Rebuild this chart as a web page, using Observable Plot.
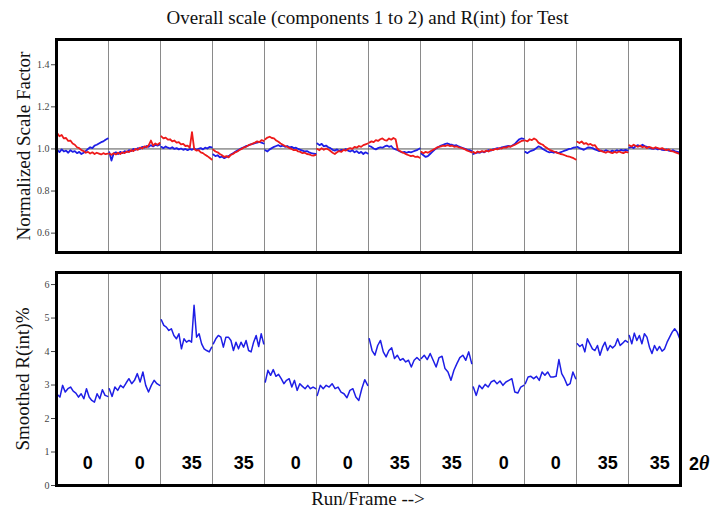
<!DOCTYPE html>
<html>
<head>
<meta charset="utf-8">
<script src="https://cdn.jsdelivr.net/npm/d3@7"></script>
<script src="https://cdn.jsdelivr.net/npm/@observablehq/plot@0.6"></script>
<style>
  html, body { margin: 0; padding: 0; background: #fff; }
  #wrap { position: relative; width: 713px; height: 514px; overflow: hidden; font-family: "Liberation Serif", "DejaVu Serif", serif; }
  .abs { position: absolute; white-space: nowrap; color: #111; }
  #title { left: 0; width: 735px; top: 7px; text-align: center; font-size: 19px; }
  .ylab { font-size: 19px; transform: translate(-50%, -50%) rotate(-90deg); }
  #xlab { left: 0; width: 736px; top: 488px; text-align: center; font-size: 19px; }
  #theta { left: 689px; top: 452px; font-family: "Liberation Sans", Arial, sans-serif; font-weight: bold; font-size: 18px; color: #000; z-index: 2; }
  #theta i { font-family: "Liberation Serif", serif; font-size: 20px; }
  svg { position: absolute; left: 0; }
</style>
</head>
<body>
<div id="wrap">
  <div id="title" class="abs">Overall scale (components 1 to 2) and R(int) for Test</div>
  <div class="abs ylab" style="left:24px; top:146px;">Normalized Scale Factor</div>
  <div class="abs ylab" style="left:23px; top:379px;">Smoothed R(int)%</div>
  <div id="xlab" class="abs">Run/Frame --&gt;</div>
  <div id="theta" class="abs"></div>
</div>
<script>
const runCount = 12;
const thetaLabels = ["0","0","35","35","0","0","35","35","0","0","35","35"];
const thetaTitle = ["2", "θ"];
const scaleTicks = [0.6, 0.8, 1.0, 1.2, 1.4];
const rintTicks = [0, 1, 2, 3, 4, 5, 6];

// Normalized scale factor, component 1 (blue), per run
const scaleBlue = [
  [0.995,0.985,0.998,0.988,0.992,0.982,0.994,0.986,0.990,0.980,0.986,0.976,0.982,0.990,1.000,1.008,1.004,1.016,1.020,1.026,1.032,1.036,1.044,1.050],
  [0.985,0.945,0.978,0.984,0.976,0.986,0.980,0.990,0.985,0.994,0.990,1.000,0.996,1.004,1.000,1.010,1.006,1.014,1.010,1.018,1.012,1.020,1.016,1.020],
  [1.010,1.004,1.012,1.006,1.002,1.008,1.000,1.004,0.998,1.002,0.996,1.000,0.994,1.000,0.996,1.002,0.996,1.000,1.004,0.998,1.006,1.002,1.010,1.008],
  [0.974,0.966,0.970,0.960,0.964,0.956,0.962,0.966,0.974,0.980,0.986,0.992,0.998,1.004,1.008,1.014,1.016,1.022,1.024,1.028,1.030,1.034,1.030,1.026],
  [0.994,0.988,0.998,1.004,1.010,1.014,1.018,1.012,1.016,1.010,1.014,1.008,1.010,1.004,1.006,1.000,0.996,0.992,0.988,0.990,0.984,0.980,0.978,0.976],
  [1.026,1.018,1.024,1.012,1.016,1.008,1.004,0.996,0.992,0.998,0.990,0.996,0.994,1.000,0.992,0.988,0.994,0.984,0.990,0.980,0.986,0.976,0.984,0.978],
  [1.014,1.010,1.002,0.998,1.004,1.008,1.006,1.012,1.016,1.010,1.014,1.002,0.998,0.994,0.988,0.984,0.986,0.982,0.986,0.984,0.988,0.992,0.996,1.002],
  [0.978,0.970,0.962,0.966,0.976,0.986,0.996,1.004,1.010,1.016,1.020,1.024,1.026,1.022,1.020,1.016,1.018,1.012,1.008,1.004,1.000,0.996,0.994,0.990],
  [0.976,0.980,0.984,0.982,0.988,0.984,0.990,0.994,0.992,0.998,1.000,1.004,1.002,1.008,1.010,1.012,1.014,1.012,1.018,1.024,1.036,1.046,1.050,1.048],
  [0.986,0.980,0.988,0.992,0.996,1.004,1.012,1.008,1.000,0.994,0.988,0.984,0.986,0.982,0.986,0.980,0.984,0.988,0.992,0.996,1.000,1.002,1.006,1.008],
  [1.010,1.004,1.000,0.996,1.002,1.008,1.006,1.004,0.998,0.994,0.990,0.992,0.988,0.994,0.990,0.986,0.992,0.988,0.994,0.990,0.996,0.992,0.996,0.992],
  [1.006,1.010,1.004,1.014,1.018,1.012,1.020,1.014,1.010,1.006,1.002,1.000,1.004,0.998,1.000,0.996,0.994,0.998,0.992,0.990,0.994,0.988,0.986,0.984]
];

// Normalized scale factor, component 2 (red), per run
const scaleRed = [
  [1.075,1.060,1.066,1.050,1.052,1.038,1.040,1.026,1.020,1.008,1.004,0.994,0.990,0.982,0.986,0.978,0.984,0.976,0.982,0.978,0.974,0.980,0.975,0.978],
  [0.978,0.972,0.980,0.974,0.982,0.976,0.984,0.980,0.988,0.985,0.994,0.990,1.000,0.996,1.006,1.002,1.012,1.008,1.018,1.040,1.016,1.026,1.020,1.028],
  [1.060,1.050,1.054,1.044,1.046,1.036,1.040,1.030,1.032,1.022,1.024,1.014,1.016,1.006,1.080,1.000,0.992,0.994,0.984,0.980,0.972,0.966,0.958,0.950],
  [0.996,0.988,0.984,0.976,0.970,0.962,0.966,0.960,0.972,0.976,0.984,0.988,0.996,1.000,1.008,1.010,1.018,1.020,1.026,1.030,1.036,1.032,1.042,1.038],
  [1.046,1.054,1.058,1.052,1.050,1.040,1.034,1.026,1.020,1.014,1.010,1.004,1.000,0.994,0.996,0.988,0.986,0.980,0.982,0.976,0.974,0.970,0.968,0.972],
  [1.000,0.994,1.004,0.996,1.002,0.998,0.990,0.982,0.976,0.984,0.990,0.986,0.996,0.992,1.000,1.004,1.000,1.010,1.006,1.014,1.010,1.018,1.022,1.026],
  [1.030,1.036,1.032,1.042,1.038,1.046,1.050,1.042,1.040,1.050,1.044,1.052,1.046,0.996,0.990,0.984,0.980,0.974,0.970,0.966,0.968,0.962,0.964,0.958],
  [0.986,0.980,0.986,0.982,0.988,0.994,1.000,1.006,1.010,1.012,1.016,1.014,1.018,1.014,1.016,1.010,1.012,1.008,1.006,1.002,0.998,0.992,0.988,0.984],
  [0.986,0.980,0.988,0.984,0.990,0.986,0.992,0.988,0.996,0.994,1.000,0.998,1.004,1.002,1.008,1.006,1.012,1.010,1.016,1.020,1.026,1.032,1.038,1.040],
  [1.040,1.036,1.046,1.042,1.050,1.044,1.030,1.024,1.020,1.010,1.004,0.996,0.992,0.988,0.984,0.980,0.976,0.974,0.970,0.966,0.964,0.960,0.956,0.950],
  [1.034,1.028,1.036,1.024,1.028,1.020,1.024,1.016,1.018,1.004,0.994,0.990,0.986,0.982,0.988,0.984,0.980,0.986,0.982,0.988,0.984,0.980,0.986,0.984],
  [1.018,1.012,1.020,1.014,1.010,1.016,1.008,1.012,1.004,1.010,1.006,1.002,1.008,1.004,1.000,1.004,0.998,0.994,0.998,0.990,0.988,0.984,0.980,0.976]
];

// Smoothed R(int) %, per run
const rint = [
  [2.72,2.64,2.99,2.79,2.89,2.94,2.82,2.76,2.64,2.74,2.59,2.89,2.64,2.54,2.49,2.74,2.59,2.86,2.69,2.66],
  [2.89,2.66,2.94,2.84,2.99,2.92,3.06,3.19,3.04,3.14,3.34,3.09,3.39,2.99,2.79,2.99,3.14,3.04,2.99],
  [4.95,4.78,4.73,4.63,4.68,4.48,4.38,4.53,4.08,4.38,4.28,4.33,4.28,5.38,4.43,4.53,4.23,4.08,4.03,3.99,4.13],
  [4.23,4.38,4.48,4.43,4.13,4.43,4.43,4.33,4.03,4.28,4.08,4.28,4.13,4.33,4.03,3.99,4.28,4.48,4.15,4.53,4.23],
  [3.09,3.44,3.29,3.46,3.26,3.32,3.19,3.04,3.14,3.19,2.94,3.14,2.84,3.04,2.96,2.89,2.99,2.89,2.94,2.89],
  [2.69,2.99,2.89,2.99,2.94,3.04,2.89,2.94,2.79,2.74,2.62,2.84,2.89,2.64,2.54,2.89,3.16,2.99],
  [4.38,4.03,3.89,4.18,4.33,3.99,3.84,4.03,4.11,3.79,3.89,3.74,3.79,3.69,3.74,3.54,3.74,3.82,3.74],
  [3.79,3.89,3.76,3.94,3.74,3.54,3.82,3.86,3.49,3.39,3.14,3.44,3.64,3.82,3.89,3.74,3.99,3.64],
  [2.94,2.69,2.99,2.89,3.02,2.94,3.09,3.14,3.04,3.12,2.99,3.09,3.14,3.19,2.79,2.76,2.94,2.99],
  [3.04,3.24,3.26,3.19,3.26,3.14,3.39,3.29,3.39,3.24,3.24,3.26,3.76,3.34,3.19,2.99,3.04,3.39,3.19],
  [4.23,4.15,4.21,3.99,4.38,4.23,4.08,4.03,4.18,3.89,4.13,4.28,4.03,4.18,4.11,4.18,4.38,4.18,4.25,4.33,4.28],
  [4.48,4.23,4.55,4.33,4.48,4.23,4.53,4.43,4.13,3.94,4.18,4.03,4.15,4.01,4.08,4.28,4.43,4.58,4.68,4.58,4.38]
];

const BLUE = "#1e1ee6";
const RED = "#ee1a1a";
const serif = "'Liberation Serif', 'DejaVu Serif', serif";

function toRows(series) {
  return series.flatMap((vals, r) =>
    vals.map((v, i) => ({ run: r, x: r + 0.015 + 0.97 * i / (vals.length - 1), v })));
}
const blueRows = toRows(scaleBlue);
const redRows = toRows(scaleRed);
const rintRows = toRows(rint);
const separators = d3.range(1, runCount);
const labelRows = thetaLabels.map((t, r) => ({ x: r + 0.6, t }));

const wrap = document.getElementById("wrap");
const thetaDiv = document.getElementById("theta");
thetaDiv.append(thetaTitle[0]);
const it = document.createElement("i");
it.textContent = thetaTitle[1];
thetaDiv.appendChild(it);

const topPlot = Plot.plot({
  width: 713, height: 232,
  marginTop: 9, marginBottom: 10, marginLeft: 56, marginRight: 33,
  style: { fontFamily: serif, background: "transparent" },
  x: { domain: [0, runCount], axis: null },
  y: { domain: [0.508, 1.52], axis: null },
  marks: [
    Plot.ruleX(separators, { stroke: "#8a8a8a", strokeWidth: 1 }),
    Plot.ruleY([1], { stroke: "#555", strokeWidth: 1 }),
    Plot.lineY(blueRows, { x: "x", y: "v", z: "run", stroke: BLUE, strokeWidth: 1.8 }),
    Plot.lineY(redRows, { x: "x", y: "v", z: "run", stroke: RED, strokeWidth: 1.8 }),
    Plot.axisY({ ticks: scaleTicks, tickFormat: d3.format(".1f"), tickSize: 5, tickPadding: 2,
                 fontSize: 10, color: "#444", label: null }),
    Plot.frame({ stroke: "black", strokeWidth: 3 })
  ]
});
topPlot.style.top = "30px";
wrap.appendChild(topPlot);

const bottomPlot = Plot.plot({
  width: 713, height: 252,
  marginTop: 10, marginBottom: 29, marginLeft: 56, marginRight: 33,
  style: { fontFamily: serif, background: "transparent" },
  x: { domain: [0, runCount], axis: null },
  y: { domain: [0, 6.36], axis: null },
  marks: [
    Plot.ruleX(separators, { stroke: "#8a8a8a", strokeWidth: 1 }),
    Plot.lineY(rintRows, { x: "x", y: "v", z: "run", stroke: BLUE, strokeWidth: 1.5 }),
    Plot.axisY({ ticks: rintTicks, tickFormat: d3.format("d"), tickSize: 5, tickPadding: 2,
                 fontSize: 10, color: "#444", label: null }),
    Plot.text(labelRows, { x: "x", y: 0.66, text: "t", fontSize: 18, fontWeight: "bold",
                           fontFamily: "'Liberation Sans', Arial, sans-serif", fill: "#000" }),
    Plot.frame({ stroke: "black", strokeWidth: 3 })
  ]
});
bottomPlot.style.top = "262px";
wrap.appendChild(bottomPlot);
</script>
</body>
</html>
